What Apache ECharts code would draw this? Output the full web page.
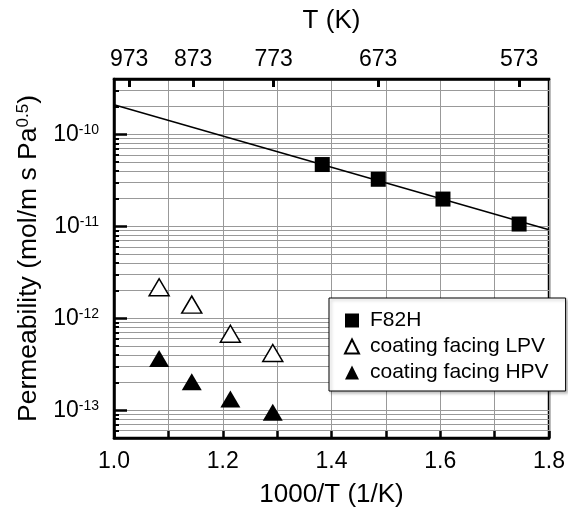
<!DOCTYPE html>
<html>
<head>
<meta charset="utf-8">
<script src="https://cdn.jsdelivr.net/npm/echarts@6/dist/echarts.min.js"></script>
<style>html,body{margin:0;padding:0;background:#fff}#main{width:568px;height:513px}</style>
</head>
<body>
<div id="main"></div>
<script>
// values
var f82hX = [1.383, 1.486, 1.605, 1.745];
var f82hY = [4.7e-11, 3.25e-11, 1.98e-11, 1.06e-11];
var fitX = [1.0, 1.8];
var fitY = [2.1e-10, 9.2e-12];
var lpvX = [1.083, 1.143, 1.214, 1.292];
var lpvY = [2.18e-12, 1.41e-12, 6.8e-13, 4.2e-13];
var hpvX = [1.083, 1.143, 1.214, 1.292];
var hpvY = [3.65e-13, 2.05e-13, 1.33e-13, 9.5e-14];
var topTemps = [973, 873, 773, 673, 573];
var decadeTicks = [1e-13, 1e-12, 1e-11, 1e-10];
var yMin = 5e-14, yMax = 4e-10;

var topTicks = topTemps.map(function (t) { return 1000 / t; });
var minorTicks = [];
[-14, -13, -12, -11, -10].forEach(function (e) {
    for (var k = 2; k <= 9; k++) {
        var v = k * Math.pow(10, e);
        if (v > yMin * 1.001 && v < yMax * 0.999) minorTicks.push(v);
    }
});
function pairs(xs, ys) { return xs.map(function (x, i) { return [x, ys[i]]; }); }

var font = 'Liberation Sans, Arial, sans-serif';
var black = '#000';
var gridColor = '#999';

var myChart = echarts.init(document.getElementById('main'));
var option = {
    animation: false,
    grid: { left: 114, right: 17, top: 79, bottom: 73, show: true, borderColor: black, borderWidth: 2.5 },
    xAxis: [{
        type: 'value', position: 'bottom', min: 1.0, max: 1.8, interval: 0.1,
        name: '1000/T (1/K)', nameLocation: 'middle', nameGap: 44,
        nameTextStyle: { fontSize: 26, color: black, fontFamily: font },
        axisLine: { show: true, lineStyle: { color: black, width: 2.5 } },
        axisTick: { inside: true, length: 7, lineStyle: { color: black, width: 2.5 } },
        axisLabel: {
            fontSize: 23, color: black, fontFamily: font, margin: 12,
            formatter: function (v) { return Math.round(v * 10) % 2 === 0 ? v.toFixed(1) : ''; }
        },
        splitLine: { show: true, lineStyle: { color: gridColor, width: 1 } }
    }, {
        type: 'value', position: 'top', min: 1.0, max: 1.8,
        name: 'T (K)', nameLocation: 'middle', nameGap: 45,
        nameTextStyle: { fontSize: 26, color: black, fontFamily: font },
        axisLine: { show: true, lineStyle: { color: black, width: 2.5 } },
        axisTick: { inside: true, length: 8, customValues: topTicks, lineStyle: { color: black, width: 3 } },
        axisLabel: {
            customValues: topTicks, fontSize: 23, color: black, fontFamily: font, margin: 8,
            formatter: function (v) { return String(Math.round(1000 / v)); }
        },
        splitLine: { show: false }
    }],
    yAxis: [{
        type: 'log', logBase: 10, min: yMin, max: yMax, position: 'left',
        name: 'Permeability (mol/m s Pa{s|0.5})', nameLocation: 'middle', nameGap: 72,
        nameTextStyle: {
            fontSize: 26.5, color: black, fontFamily: font,
            rich: { s: { fontSize: 17, color: black, fontFamily: font, verticalAlign: 'top' } }
        },
        axisLine: { show: true, lineStyle: { color: black, width: 2.5 } },
        axisTick: { inside: true, length: 13, customValues: decadeTicks, lineStyle: { color: black, width: 2.5 } },
        axisLabel: {
            customValues: decadeTicks, margin: 15,
            formatter: function (v) { return '{b|10}{s|' + Math.round(Math.log10(v)) + '}'; },
            rich: {
                b: { fontSize: 23, color: black, fontFamily: font },
                s: { fontSize: 14, color: black, fontFamily: font, verticalAlign: 'top' }
            }
        },
        splitLine: { show: true, lineStyle: { color: gridColor, width: 1 } }
    }, {
        type: 'log', logBase: 10, min: yMin, max: yMax, position: 'left',
        axisLine: { show: false },
        axisTick: { show: true, inside: true, length: 5, customValues: minorTicks, lineStyle: { color: black, width: 2 } },
        axisLabel: { show: false },
        splitLine: { show: true, lineStyle: { color: gridColor, width: 1 } }
    }],
    legend: {
        orient: 'vertical', left: 329, top: 298, padding: [12, 17, 8, 15], itemGap: 5,
        itemWidth: 14, itemHeight: 14,
        backgroundColor: '#fff', borderColor: black, borderWidth: 1,
        shadowColor: 'rgba(0,0,0,0.25)', shadowBlur: 3, shadowOffsetX: 2, shadowOffsetY: 2,
        textStyle: { fontSize: 21, color: black, fontFamily: font, padding: [0, 0, 0, 6] },
        data: [
            { name: 'F82H', icon: 'rect' },
            { name: 'coating facing LPV', icon: 'triangle' },
            { name: 'coating facing HPV', icon: 'triangle' }
        ]
    },
    series: [{
        type: 'line', data: pairs(fitX, fitY), symbol: 'none', silent: true,
        lineStyle: { color: black, width: 1.5 }, z: 2
    }, {
        name: 'F82H', type: 'scatter', data: pairs(f82hX, f82hY),
        symbol: 'rect', symbolSize: 15, itemStyle: { color: black, opacity: 1 }, z: 3
    }, {
        name: 'coating facing LPV', type: 'scatter', data: pairs(lpvX, lpvY),
        symbol: 'triangle', symbolSize: [20, 17],
        itemStyle: { color: '#fff', borderColor: black, borderWidth: 1.5, opacity: 1 }, z: 3
    }, {
        name: 'coating facing HPV', type: 'scatter', data: pairs(hpvX, hpvY),
        symbol: 'triangle', symbolSize: [20, 17], itemStyle: { color: black, opacity: 1 }, z: 3
    }]
};
myChart.setOption(option);
</script>
</body>
</html>
